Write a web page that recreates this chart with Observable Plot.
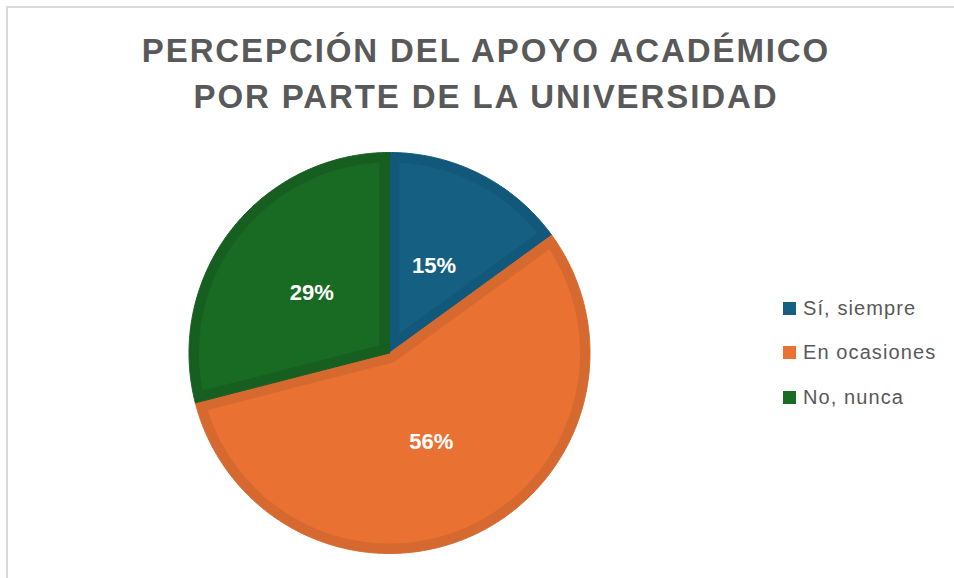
<!DOCTYPE html>
<html>
<head>
<meta charset="utf-8">
<script src="https://cdn.jsdelivr.net/npm/d3@7"></script>
<script src="https://cdn.jsdelivr.net/npm/@observablehq/plot@0.6"></script>
<style>
  html, body { margin: 0; padding: 0; background: #fff; overflow: hidden; }
  #wrap { position: relative; width: 954px; height: 578px; overflow: hidden; }
  #frame { position: absolute; left: 6px; top: 6px; width: 1200px; height: 1200px;
           border-left: 2px solid #dadada; border-top: 2px solid #dadada; }
  #title { position: absolute; left: 0; width: 972px; top: 28px; text-align: center;
           font-family: "Liberation Sans", Arial, sans-serif; font-weight: bold; font-size: 33px;
           line-height: 46px; letter-spacing: 1.9px; color: #595959; }
  #chart { position: absolute; left: 0; top: 0; }
  #legend { position: absolute; left: 783px; top: 286px; font-family: "Liberation Sans", Arial, sans-serif;
            font-size: 20px; letter-spacing: 1.1px; color: #595959; }
  .item { display: flex; align-items: center; height: 44.5px; }
  .sw { width: 13px; height: 13px; margin-right: 7px; flex: none; }
</style>
</head>
<body>
<div id="wrap">
  <div id="frame"></div>
  <div id="chart"></div>
  <div id="title">PERCEPCIÓN DEL APOYO ACADÉMICO<br>POR PARTE DE LA UNIVERSIDAD</div>
  <div id="legend"></div>
</div>
<script>
const categories = ["Sí, siempre", "En ocasiones", "No, nunca"];
const values = [15, 56, 29];
const labels = ["15%", "56%", "29%"];
const fillColors = ["#156082", "#E97132", "#196B24"];
const edgeColors = ["#12587A", "#D5692F", "#175F21"];

const cx = 389, cy = 352.5, R = 200.5;
const insetPx = 10;
const inset = insetPx / R;

const arcs = d3.pie().sort(null).value(d => d)(values);

function wedge(a0, a1, r, d) {
  const th = a1 - a0, mid = (a0 + a1) / 2;
  const apexR = d > 0 ? d / Math.sin(th / 2) : 0;
  const rr = r - d;
  const da = d > 0 ? Math.asin(d / rr) : 0;
  const pts = [{x: apexR * Math.sin(mid), y: apexR * Math.cos(mid)}];
  const n = Math.max(2, Math.ceil((th - 2 * da) / (Math.PI / 360)));
  for (let i = 0; i <= n; i++) {
    const a = a0 + da + (th - 2 * da) * i / n;
    pts.push({x: rr * Math.sin(a), y: rr * Math.cos(a)});
  }
  pts.push(pts[0]);
  return pts;
}

const marks = [];
arcs.forEach((a, i) => {
  marks.push(Plot.line(wedge(a.startAngle, a.endAngle, 1, 0), {
    x: "x", y: "y", fill: edgeColors[i], stroke: edgeColors[i], strokeWidth: 1, curve: "linear"
  }));
});
arcs.forEach((a, i) => {
  marks.push(Plot.line(wedge(a.startAngle, a.endAngle, 1, inset), {
    x: "x", y: "y", fill: fillColors[i], stroke: "none", curve: "linear"
  }));
});
const labelRows = arcs.map((a, i) => {
  const m = (a.startAngle + a.endAngle) / 2, r = 0.49;
  return {x: r * Math.sin(m), y: r * Math.cos(m), text: labels[i]};
});
marks.push(Plot.text(labelRows, {
  x: "x", y: "y", text: "text", fill: "white", fontSize: 22, fontWeight: "bold"
}));

const svg = Plot.plot({
  width: 954, height: 578,
  margin: 0,
  x: {domain: [-1, 1], range: [cx - R, cx + R], axis: null},
  y: {domain: [-1, 1], range: [cy + R, cy - R], axis: null},
  style: {fontFamily: "'Liberation Sans', Arial, sans-serif", background: "transparent", overflow: "visible"},
  marks
});
document.getElementById("chart").appendChild(svg);

const lg = document.getElementById("legend");
categories.forEach((c, i) => {
  const it = document.createElement("div");
  it.className = "item";
  const sw = document.createElement("span");
  sw.className = "sw";
  sw.style.background = fillColors[i];
  const tx = document.createElement("span");
  tx.textContent = c;
  it.appendChild(sw); it.appendChild(tx);
  lg.appendChild(it);
});
</script>
</body>
</html>
